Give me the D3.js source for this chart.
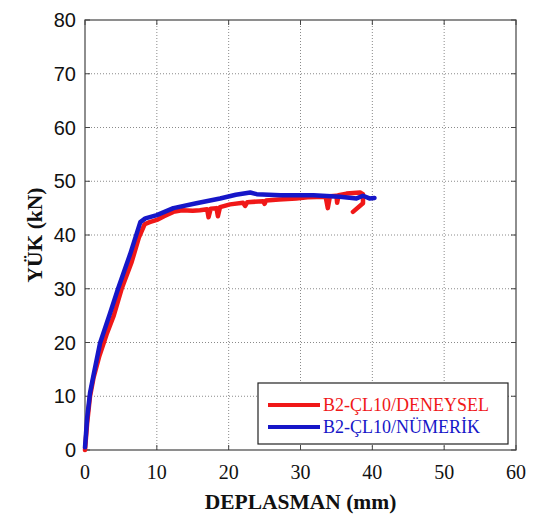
<!DOCTYPE html>
<html lang="en">
<head>
<meta charset="utf-8">
<style>
  body { margin: 0; background: white; }
  svg { background: white; }
  .grid line { stroke: #8a8a8a; stroke-dasharray: 1,2; }
  .frame { fill: none; stroke: #444; stroke-width: 1.2; }
  .ytick text { font-family: 'Liberation Sans', Arial, sans-serif; font-size: 20px; fill: #111; }
  .xtick text { font-family: 'Liberation Serif', 'Times New Roman', serif; font-size: 20px; fill: #111; }
  .title { font-family: 'Liberation Serif', 'Times New Roman', serif; font-weight: bold; font-size: 21.5px; fill: #111; }
  .legend text { font-family: 'Liberation Serif', 'Times New Roman', serif; font-size: 18px; }
  .curve { fill: none; stroke-width: 4.5; stroke-linejoin: round; stroke-linecap: round; }
</style>
</head>
<body>
<svg width="535" height="519"></svg>
<script src="https://cdn.jsdelivr.net/npm/d3@7"></script>
<script>
// tick values
const xTicks = [0, 10, 20, 30, 40, 50, 60]
const yTicks = [0, 10, 20, 30, 40, 50, 60, 70, 80]

// B2-ÇL10/DENEYSEL (red) - displacement (mm), load (kN)
const redX = [0, 0.3, 0.7, 1.2, 2, 3, 4, 5.1, 6.5, 7.5, 8.3, 9, 10, 11, 12.3, 13.5, 15, 16, 17, 17.2, 17.5, 18.3, 18.5, 18.8,
  20.2, 22, 22.3, 22.6, 24.8, 25, 25.2, 27, 29.4, 31, 33.5, 33.8, 34.1, 35, 35.1, 35.3, 36.4, 38.3, 38.7, 38.7, 37.3]
const redY = [0, 5, 10, 13.5, 17.5, 21.5, 25, 30, 35, 39.5, 42, 42.4, 42.8, 43.5, 44.3, 44.6, 44.5, 44.6, 44.8, 43.3, 44.9, 45.0, 43.5, 45.2,
  45.7, 46.0, 45.4, 46.1, 46.3, 45.8, 46.4, 46.6, 46.8, 47.0, 47.1, 45.0, 47.2, 47.3, 46.0, 47.4, 47.7, 47.9, 47.6, 45.9, 44.3]

// B2-ÇL10/NÜMERİK (blue)
const blueX = [0, 0.3, 0.7, 1.2, 2.1, 3.5, 4.6, 6.3, 7.7, 8.4, 10, 12.3, 15.5, 18.8, 21, 23, 23.9, 27.2, 31.8, 35.5, 37.8, 38.7, 39.6, 40.3]
const blueY = [0.5, 6, 10.6, 14, 19.9, 25.5, 30, 36.5, 42.4, 43.1, 43.7, 45.0, 45.9, 46.8, 47.5, 47.9, 47.6, 47.4, 47.4, 47.1, 46.8, 47.3, 46.8, 46.9]

const seriesNames = ['B2-ÇL10/DENEYSEL', 'B2-ÇL10/NÜMERİK']
const seriesColors = ['#f01818', '#1616c8']

const margin = { left: 85, right: 19, top: 20, bottom: 69 }
const W = 535, H = 519
const x = d3.scaleLinear().domain([0, 60]).range([margin.left, W - margin.right])
const y = d3.scaleLinear().domain([0, 80]).range([H - margin.bottom, margin.top])

const svg = d3.select('svg')

// grid
const grid = svg.append('g').attr('class', 'grid')
grid.selectAll('.gx').data(xTicks.slice(1, -1)).join('line')
  .attr('x1', d => x(d)).attr('x2', d => x(d)).attr('y1', y(0)).attr('y2', y(80))
grid.selectAll('.gy').data(yTicks.slice(1, -1)).join('line')
  .attr('y1', d => y(d)).attr('y2', d => y(d)).attr('x1', x(0)).attr('x2', x(60))

// inner ticks on all sides
const tk = 5
const ticks = svg.append('g').attr('stroke', '#444')
xTicks.forEach(d => {
  ticks.append('line').attr('x1', x(d)).attr('x2', x(d)).attr('y1', y(0)).attr('y2', y(0) - tk)
  ticks.append('line').attr('x1', x(d)).attr('x2', x(d)).attr('y1', y(80)).attr('y2', y(80) + tk)
})
yTicks.forEach(d => {
  ticks.append('line').attr('y1', y(d)).attr('y2', y(d)).attr('x1', x(0)).attr('x2', x(0) + tk)
  ticks.append('line').attr('y1', y(d)).attr('y2', y(d)).attr('x1', x(60)).attr('x2', x(60) - tk)
})

svg.append('rect').attr('class', 'frame')
  .attr('x', x(0)).attr('y', y(80)).attr('width', x(60) - x(0)).attr('height', y(0) - y(80))

// tick labels
svg.append('g').attr('class', 'ytick').selectAll('text').data(yTicks).join('text')
  .attr('x', x(0) - 9).attr('y', d => y(d)).attr('dy', '0.35em').attr('text-anchor', 'end').text(d => d)
svg.append('g').attr('class', 'xtick').selectAll('text').data(xTicks).join('text')
  .attr('x', d => x(d)).attr('y', y(0) + 29).attr('text-anchor', 'middle').text(d => d)

// axis titles
svg.append('text').attr('class', 'title').attr('text-anchor', 'middle')
  .attr('x', (x(0) + x(60)) / 2).attr('y', 509).text('DEPLASMAN (mm)')
svg.append('text').attr('class', 'title').attr('text-anchor', 'middle')
  .attr('transform', 'translate(42,' + y(40) + ') rotate(-90)').text('YÜK (kN)')

// curves
const line = d3.line().x(d => x(d[0])).y(d => y(d[1]))
const redData = redX.map((v, i) => [v, redY[i]])
const blueData = blueX.map((v, i) => [v, blueY[i]])
svg.append('path').attr('class', 'curve').attr('stroke', seriesColors[0]).attr('d', line(redData))
svg.append('path').attr('class', 'curve').attr('stroke', seriesColors[1]).attr('d', line(blueData))

// legend
const lg = svg.append('g').attr('class', 'legend')
lg.append('rect').attr('x', 258).attr('y', 383).attr('width', 250).attr('height', 61)
  .attr('fill', 'white').attr('stroke', '#222').attr('stroke-width', 1.2)
seriesNames.forEach((name, i) => {
  const ly = 405 + i * 22
  lg.append('line').attr('x1', 268).attr('x2', 320).attr('y1', ly).attr('y2', ly)
    .attr('stroke', seriesColors[i]).attr('stroke-width', 4)
  lg.append('text').attr('x', 323).attr('y', ly).attr('dy', '0.35em')
    .attr('fill', seriesColors[i]).text(name)
})
</script>
</body>
</html>
